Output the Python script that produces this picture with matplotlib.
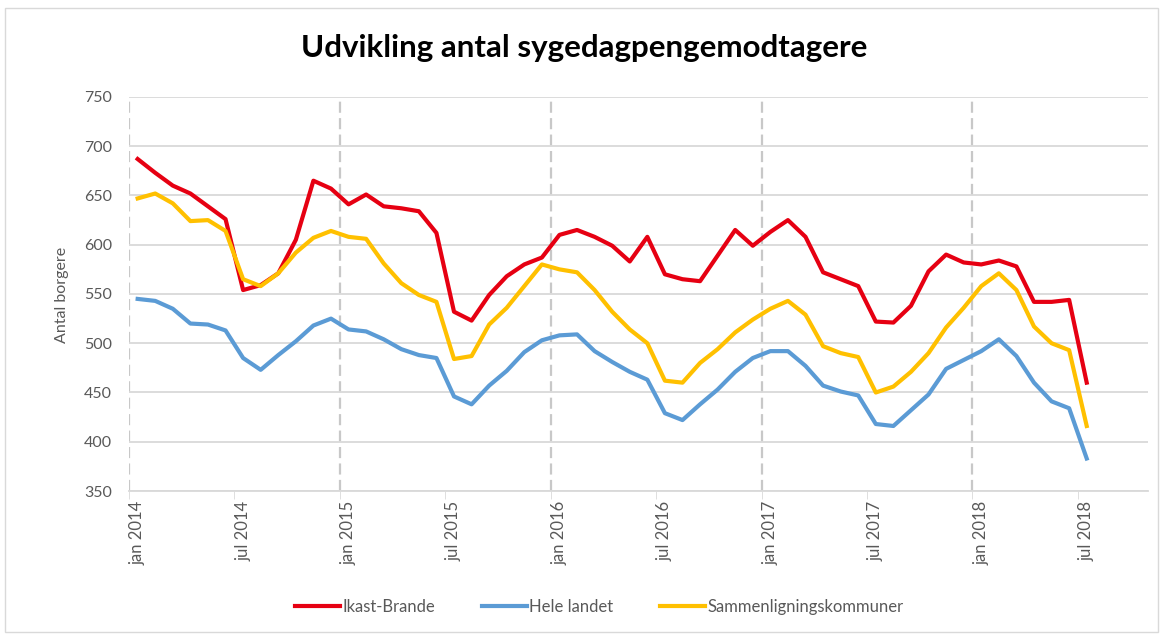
import matplotlib.pyplot as plt
import numpy as np
from matplotlib.patches import Rectangle

plt.rcParams['font.family'] = ['Lato', 'DejaVu Sans']

# monthly values, jan 2014 .. jul 2018
ikast_brande = [687, 673, 660, 652, 639, 626, 554, 559, 571, 605, 665, 657,
                641, 651, 639, 637, 634, 612, 532, 523, 549, 568, 580, 587,
                610, 615, 608, 599, 583, 608, 570, 565, 563, 589, 615, 599,
                613, 625, 608, 572, 565, 558, 522, 521, 538, 573, 590, 582,
                580, 584, 578, 542, 542, 544, 460]
hele_landet = [545, 543, 535, 520, 519, 513, 485, 473, 488, 502, 518, 525,
               514, 512, 504, 494, 488, 485, 446, 438, 457, 472, 491, 503,
               508, 509, 492, 481, 471, 463, 429, 422, 438, 453, 471, 485,
               492, 492, 477, 457, 451, 447, 418, 416, 432, 448, 474, 483,
               492, 504, 487, 460, 441, 434, 383]
sammenligning = [647, 652, 642, 624, 625, 614, 565, 558, 571, 592, 607, 614,
                 608, 606, 581, 561, 549, 542, 484, 487, 519, 536, 558, 580,
                 575, 572, 554, 532, 514, 500, 462, 460, 480, 494, 511, 524,
                 535, 543, 529, 497, 490, 486, 450, 456, 471, 490, 516, 536,
                 558, 571, 554, 517, 500, 493, 416]
tick_labels = ["jan 2014", "jul 2014", "jan 2015", "jul 2015", "jan 2016",
               "jul 2016", "jan 2017", "jul 2017", "jan 2018", "jul 2018"]

x = np.arange(len(ikast_brande))

fig = plt.figure(figsize=(11.61, 6.38), dpi=100)
ax = fig.add_axes([0.111, 0.2304, 0.878, 0.6176])

ax.plot(x, ikast_brande, color='#e60012', lw=3, label='Ikast-Brande')
ax.plot(x, hele_landet, color='#5b9bd5', lw=3, label='Hele landet')
ax.plot(x, sammenligning, color='#ffc000', lw=3, label='Sammenligningskommuner')

ax.set_xlim(-0.5, 57.5)
ax.set_ylim(350, 750)
ax.set_yticks(range(350, 800, 50))
ax.yaxis.grid(True, color='#d9d9d9', lw=1.3)
ax.set_axisbelow(True)

# dashed year lines
for k in range(5):
    ax.axvline(-0.5 + 12 * k, color='#c8c8c8', lw=1.6, ls=(0, (5, 2.4)), zorder=0)

# labels at category centres, ticks at boundaries
ax.set_xticks(x[::6])
ax.set_xticklabels(tick_labels, rotation=90)
ax.set_xticks(np.arange(-0.5, 57, 6), minor=True)
ax.tick_params(axis='x', which='major', length=0, pad=7, labelsize=12)
ax.tick_params(axis='x', which='minor', length=6, color='#d9d9d9', direction='out')
ax.tick_params(axis='y', length=0, pad=12, labelsize=11.5)
ax.tick_params(labelcolor='#595959')

for side in ['top', 'right', 'left']:
    ax.spines[side].set_visible(False)
ax.spines['bottom'].set_color('#d9d9d9')
ax.spines['bottom'].set_linewidth(1.3)

fig.text(0.503, 0.925, 'Udvikling antal sygedagpengemodtagere',
         ha='center', va='center', fontsize=22.5, fontweight='bold', color='#000000')
fig.text(0.053, 0.537, 'Antal borgere', rotation=90, ha='center', va='center',
         fontsize=11.5, color='#595959')

fig.legend(loc='center', bbox_to_anchor=(0.516, 0.0486), ncol=3, frameon=False,
           fontsize=12, handlelength=2.7, handletextpad=0.15, columnspacing=2.8,
           labelcolor='#595959')

fig.patches.append(Rectangle((0.004, 0.01), 0.993, 0.978, transform=fig.transFigure,
                             fill=False, ec='#d9d9d9', lw=1))

fig.savefig('out.png', dpi=100)
